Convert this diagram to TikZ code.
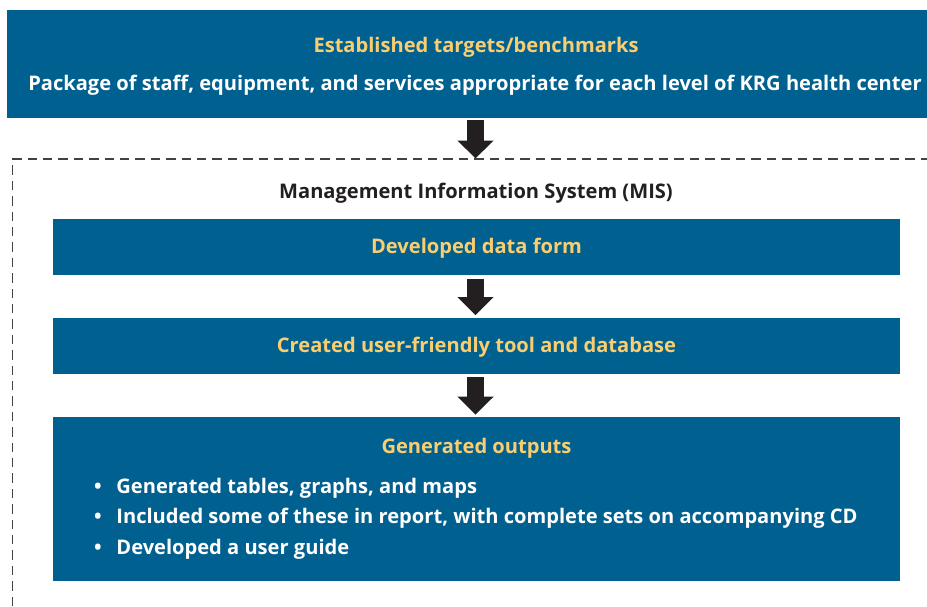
\documentclass[tikz,border=0pt]{standalone}
\usepackage{fontspec}
\setmainfont{Open Sans}
\usetikzlibrary{arrows.meta, positioning}
\definecolor{mainblue}{RGB}{0,96,143}
\definecolor{headyellow}{RGB}{250,206,112}
\definecolor{darkarrow}{RGB}{35,31,32}
\definecolor{dashgray}{RGB}{66,66,66}
\tikzset{
  bluebox/.style={fill=mainblue, draw=none, inner sep=0pt},
  boxfont/.style={font=\bfseries\fontsize{10.05}{12}\selectfont, inner sep=0pt},
  boxtitle/.style={boxfont, text=headyellow, anchor=base},
  boxtext/.style={boxfont, text=white, anchor=base},
  itemtext/.style={boxfont, text=white, anchor=base west},
  flowarrow/.style={draw=darkarrow, line width=8.5pt,
    -{Triangle[width=17.5pt, length=9pt]}},
  misframe/.style={draw=dashgray, line width=0.8pt, dash pattern=on 4.7pt off 3pt},
}

\begin{document}
\begin{tikzpicture}[x=0.5pt, y=-0.5pt]
  \useasboundingbox (0,0) rectangle (927,606);

  % targets
  \node[bluebox, minimum width=460pt, minimum height=54pt] (targets) at (467,64) {};
  \node[boxtitle] (targetsTitle) at (476,52.5) {Established targets/benchmarks};
  \node[boxtext] (targetsText) at (475,90.5)
    {Package of staff, equipment, and services appropriate for each level of KRG health center};

  % MIS frame
  \coordinate (misTop) at (475.5,158.5);
  \draw[misframe] (12.5,606) |- (927,159);
  \node[boxfont, text=darkarrow, anchor=base] (misLabel) at (476,198)
    {Management Information System (MIS)};

  \node[bluebox, minimum width=423.5pt, minimum height=28pt] (dataform) at (476.5,247.3) {};
  \node[boxtitle] at (476.5,253.5) {Developed data form};

  \node[bluebox, minimum width=423.5pt, minimum height=28pt] (tool) at (476.5,345.5) {};
  \node[boxtitle] at (476.5,352.5) {Created user-friendly tool and database};

  \node[bluebox, minimum width=423.5pt, minimum height=82pt, anchor=north] (outputs) at (476.5,416.7) {};
  \node[boxtitle] at (476.5,453.5) {Generated outputs};
  \node[itemtext] (item1) at (116,493) {Generated tables, graphs, and maps};
  \node[itemtext] (item2) at (116,523.5) {Included some of these in report, with complete sets on accompanying CD};
  \node[itemtext] (item3) at (116,554) {Developed a user guide};
  \node[boxtext, anchor=base] (bullet1) at (98,493) {\textbullet};
  \node[boxtext, anchor=base] (bullet2) at (98,523.5) {\textbullet};
  \node[boxtext, anchor=base] (bullet3) at (98,554) {\textbullet};

  % arrows
  \draw[flowarrow, shorten <=1pt] (targets.south -| misTop) -- (misTop);
  \draw[flowarrow, shorten <=1.6pt, shorten >=1pt] (dataform.south -| misTop) -- (tool.north -| misTop);
  \draw[flowarrow, shorten <=1.6pt, shorten >=1pt] (tool.south -| misTop) -- (outputs.north -| misTop);

\end{tikzpicture}
\end{document}
